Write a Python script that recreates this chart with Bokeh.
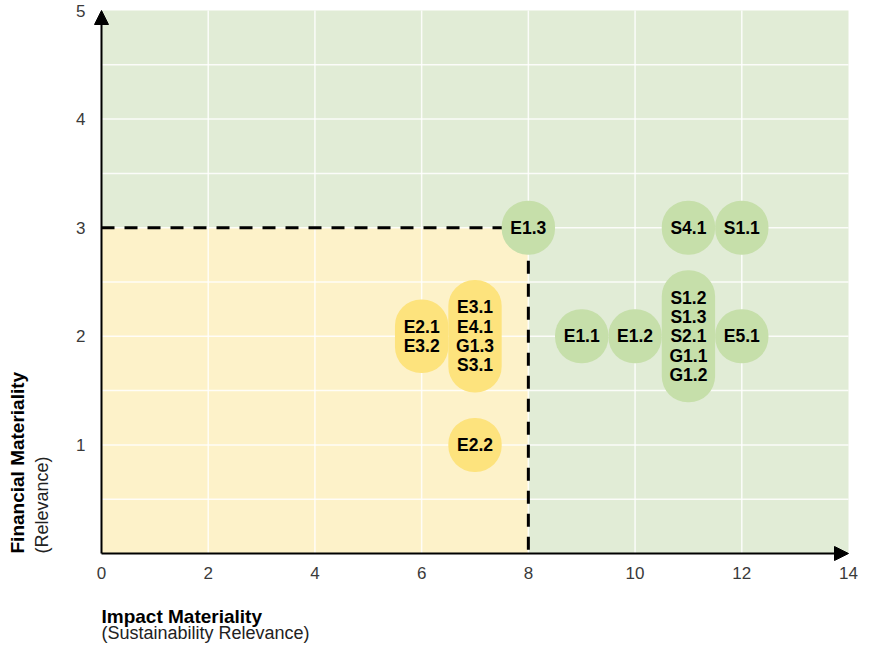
import math
from bokeh.plotting import figure
from bokeh.models import Range1d, Arrow, NormalHead, ColumnDataSource
from bokeh.core.properties import value
from bokeh.embed import file_html
from bokeh.resources import INLINE

# ---------------- data ----------------
x_ticks = [0, 2, 4, 6, 8, 10, 12, 14]
y_ticks = [1, 2, 3, 4, 5]
x_grid = [2, 4, 6, 8, 10, 12]
y_grid = [0.5, 1, 1.5, 2, 2.5, 3, 3.5, 4, 4.5]
x_max = 14
y_max = 5
impact_threshold = 8
financial_threshold = 3

bubble_x = [8, 11, 12, 9, 10, 11, 12, 6, 7, 7]
bubble_y = [3, 3, 3, 2, 2, 2, 2, 2, 2, 1]
bubble_labels = [
    ["E1.3"],
    ["S4.1"],
    ["S1.1"],
    ["E1.1"],
    ["E1.2"],
    ["S1.2", "S1.3", "S2.1", "G1.1", "G1.2"],
    ["E5.1"],
    ["E2.1", "E3.2"],
    ["E3.1", "E4.1", "G1.3", "S3.1"],
    ["E2.2"],
]
x_title = "Impact Materiality"
x_subtitle = "(Sustainability Relevance)"
y_title = "Financial Materiality"
y_subtitle = "(Relevance)"

# ---------------- styles / layout ----------------
GREEN_BG = "#e1ecd6"
YELLOW_BG = "#fdf2c9"
GREEN_BUB = "#c6dfaa"
YELLOW_BUB = "#fde37d"
FONT = "Liberation Sans"
BUBBLE_D = 54
LINE_H = 19.5

W, H = 858, 646
PX_LEFT, PX_RIGHT = 101, 848      # pixel columns of x=0 and x=x_max
PX_TOP, PX_BOTTOM = 10, 553       # pixel rows of y=y_max and y=0
sx = (PX_RIGHT - PX_LEFT) / x_max
sy = (PX_BOTTOM - PX_TOP) / y_max
x_range = Range1d(-PX_LEFT / sx, x_max + (W - PX_RIGHT) / sx)
y_range = Range1d(-(H - PX_BOTTOM) / sy, y_max + PX_TOP / sy)

p = figure(
    width=W, height=H, x_range=x_range, y_range=y_range,
    x_axis_type=None, y_axis_type=None,
    output_backend="svg", toolbar_location=None, min_border=0,
    background_fill_color="white", border_fill_color="white", outline_line_color=None,
)
p.grid.visible = False

# backgrounds
p.quad(left=[0], right=[x_max], bottom=[0], top=[y_max], fill_color=GREEN_BG, line_color=None)
p.quad(left=[0], right=[impact_threshold], bottom=[0], top=[financial_threshold],
       fill_color=YELLOW_BG, line_color=None)

# grid lines
p.segment(x0=x_grid, x1=x_grid, y0=[0] * len(x_grid), y1=[y_max] * len(x_grid),
          line_color="white", line_width=1.5, line_alpha=0.85)
p.segment(x0=[0] * len(y_grid), x1=[x_max] * len(y_grid), y0=y_grid, y1=y_grid,
          line_color="white", line_width=1.5, line_alpha=0.85)

# threshold dashed lines
p.line(x=[0, impact_threshold, impact_threshold], y=[financial_threshold, financial_threshold, 0],
       line_color="black", line_width=3, line_dash="13 10")

# bubbles
colors = [YELLOW_BUB if (bx < impact_threshold and by < financial_threshold) else GREEN_BUB
          for bx, by in zip(bubble_x, bubble_y)]
heights = [BUBBLE_D + (len(l) - 1) * LINE_H for l in bubble_labels]
texts = ["\n".join(l) for l in bubble_labels]
src = ColumnDataSource(dict(x=bubble_x, y=bubble_y, c=colors, h=heights, t=texts))
p.rect(x="x", y="y", width=1, height="h", width_units="data", height_units="screen",
       fill_color="c", line_color=None, border_radius=26, source=src)
p.text(x="x", y="y", text="t", source=src, text_align="center", text_baseline="middle",
       text_font=value(FONT), text_font_style="bold", text_font_size="17.5px",
       text_line_height=0.97, text_color="black")

# axes arrows
p.add_layout(Arrow(end=NormalHead(size=14, fill_color="black", line_color="black", line_width=1),
                   x_start=0, y_start=0, x_end=x_max, y_end=0, line_width=2, line_color="black"))
p.add_layout(Arrow(end=NormalHead(size=14, fill_color="black", line_color="black", line_width=1),
                   x_start=0, y_start=0, x_end=0, y_end=y_max, line_width=2, line_color="black"))

# tick labels
p.text(x=x_ticks, y=[0] * len(x_ticks), text=[str(t) for t in x_ticks], y_offset=19,
       text_align="center", text_baseline="middle", text_font=value(FONT),
       text_font_size="17px", text_color="#3a3a3a")
p.text(x=[0] * len(y_ticks), y=y_ticks, text=[str(t) for t in y_ticks], x_offset=-16,
       text_align="right", text_baseline="middle", text_font=value(FONT),
       text_font_size="17px", text_color="#3a3a3a")

# axis titles
p.text(x=[0], y=[0], text=[x_title], y_offset=63, text_align="left", text_baseline="middle",
       text_font=value(FONT), text_font_style="bold", text_font_size="19px", text_color="black")
p.text(x=[0], y=[0], text=[x_subtitle], y_offset=79, text_align="left", text_baseline="middle",
       text_font=value(FONT), text_font_size="18px", text_color="#222222")
p.text(x=[0], y=[0], text=[y_title], x_offset=-84, angle=math.pi / 2, text_align="left",
       text_baseline="middle", text_font=value(FONT), text_font_style="bold",
       text_font_size="19px", text_color="black")
p.text(x=[0], y=[0], text=[y_subtitle], x_offset=-60, angle=math.pi / 2, text_align="left",
       text_baseline="middle", text_font=value(FONT), text_font_size="18px", text_color="#222222")

open("out.html", "w").write(file_html(p, INLINE))
